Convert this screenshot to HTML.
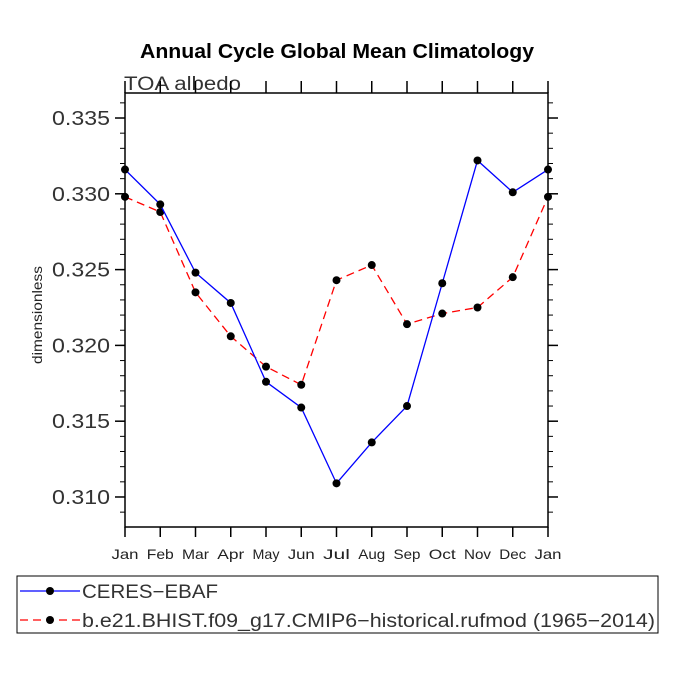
<!DOCTYPE html>
<html><head><meta charset="utf-8"><style>
body{margin:0;background:#fff;}
svg text{font-family:"Liberation Sans",sans-serif;}
</style></head><body>
<svg id="chart" width="675" height="675" viewBox="0 0 675 675" xmlns="http://www.w3.org/2000/svg">
<text x="140" y="58" textLength="394" lengthAdjust="spacingAndGlyphs" font-size="20" font-weight="bold">Annual Cycle Global Mean Climatology</text>
<text x="124" y="90" textLength="117" lengthAdjust="spacingAndGlyphs" font-size="19" fill="#333">TOA albedo</text>
<text transform="translate(42,315) rotate(-90)" text-anchor="middle" textLength="98" lengthAdjust="spacingAndGlyphs" font-size="14" fill="#222">dimensionless</text>
<g id="axes"></g>
<g id="series"></g>
<rect x="17" y="576" width="641" height="57" fill="none" stroke="#000" stroke-width="1"/>
<g>
<line x1="20" y1="591" x2="80" y2="591" stroke="#0000ff" stroke-width="1.3"/>
<circle cx="50" cy="591" r="4" fill="#000"/>
<text x="82" y="598" textLength="136" lengthAdjust="spacingAndGlyphs" font-size="19" fill="#333">CERES−EBAF</text>
</g>
<g>
<line x1="20" y1="620" x2="80" y2="620" stroke="#ff0000" stroke-width="1.3" stroke-dasharray="8,5"/>
<circle cx="50" cy="620" r="4" fill="#000"/>
<text x="82" y="627" textLength="573" lengthAdjust="spacingAndGlyphs" font-size="19" fill="#333">b.e21.BHIST.f09_g17.CMIP6−historical.rufmod (1965−2014)</text>
</g>
</svg>
<script>
const months=["Jan","Feb","Mar","Apr","May","Jun","Jul","Aug","Sep","Oct","Nov","Dec","Jan"];
const ceres=[0.3316,0.3293,0.3248,0.3228,0.3176,0.3159,0.3109,0.3136,0.3160,0.3241,0.3322,0.3301,0.3316];
const model=[0.3298,0.3288,0.3235,0.3206,0.3186,0.3174,0.3243,0.3253,0.3214,0.3221,0.3225,0.3245,0.3298];
const yTicks=[0.310,0.315,0.320,0.325,0.330,0.335];
const yTickLabels=["0.310","0.315","0.320","0.325","0.330","0.335"];
const X0=125,X1=548,Y0=93,Y1=527,YMIN=0.30802,YMAX=0.33665;
const xs=i=>X0+(X1-X0)*i/(months.length-1);
const ys=v=>Y1-(v-YMIN)/(YMAX-YMIN)*(Y1-Y0);
const NS="http://www.w3.org/2000/svg";
const ax=document.getElementById('axes'),sg=document.getElementById('series');
function mk(t,a,p){const e=document.createElementNS(NS,t);for(const k in a)e.setAttribute(k,a[k]);p.appendChild(e);return e;}
const fr=mk('rect',{x:X0,y:Y0,width:X1-X0,height:Y1-Y0,fill:'none',stroke:'#000','stroke-width':1.5},ax);


for(let v=0.309;v<=0.3365;v+=0.001){const y=ys(v);if(y<Y0||y>Y1)continue;
mk('line',{x1:X0-5,x2:X0,y1:y,y2:y,stroke:'#000','stroke-width':1},ax);
mk('line',{x1:X1,x2:X1+5,y1:y,y2:y,stroke:'#000','stroke-width':1},ax);}
yTicks.forEach((v,i)=>{const y=ys(v);
mk('line',{x1:X0-10,x2:X0,y1:y,y2:y,stroke:'#000','stroke-width':1.5},ax);
mk('line',{x1:X1,x2:X1+10,y1:y,y2:y,stroke:'#000','stroke-width':1.5},ax);
const t=mk('text',{x:X0-15,y:y+7,'text-anchor':'end','font-size':20,fill:'#333',textLength:58,lengthAdjust:'spacingAndGlyphs'},ax);t.textContent=yTickLabels[i];

});
months.forEach((m,i)=>{const x=xs(i);
mk('line',{x1:x,x2:x,y1:Y1,y2:Y1+10,stroke:'#000','stroke-width':1.5},ax);
mk('line',{x1:x,x2:x,y1:Y0-12,y2:Y0,stroke:'#000','stroke-width':1.5},ax);
const t=mk('text',{x:x,y:559,'text-anchor':'middle','font-size':14,fill:'#222',textLength:27,lengthAdjust:'spacingAndGlyphs'},ax);t.textContent=m;

});
function series(d,col,dash,name){
const p=mk('polyline',{points:d.map((v,i)=>xs(i)+','+ys(v)).join(' '),fill:'none',stroke:col,'stroke-width':1.3},sg);
if(dash)p.setAttribute('stroke-dasharray',dash);


d.forEach((v,i)=>{const c=mk('circle',{cx:xs(i),cy:ys(v),r:4,fill:'#000'},sg);

});}
series(model,'#ff0000','8,5','model');
series(ceres,'#0000ff',null,'ceres');
</script>
</body></html>
